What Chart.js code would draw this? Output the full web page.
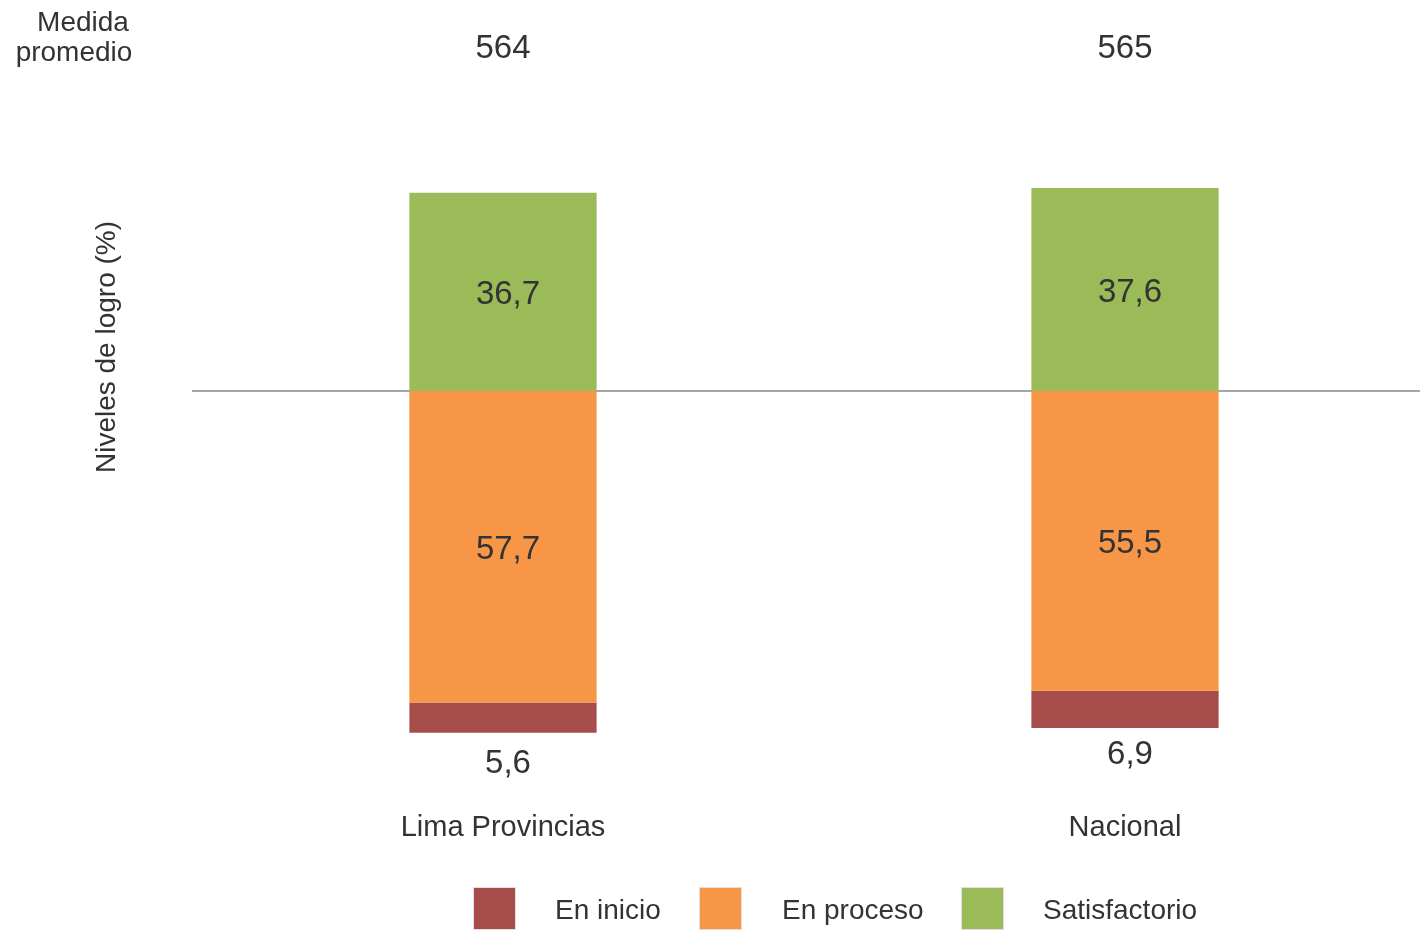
<!DOCTYPE html>
<html>
<head>
<meta charset="utf-8">
<script src="https://cdn.jsdelivr.net/npm/chart.js@4/dist/chart.umd.min.js"></script>
<style>
html,body{margin:0;padding:0;background:#fff;overflow:hidden;}
#wrap{width:1420px;height:930px;overflow:hidden;position:relative;}
#c{display:block;}
</style>
</head>
<body>
<div id="wrap"><canvas id="c" width="1440" height="930"></canvas></div>
<script>
const categories = ["Lima Provincias", "Nacional"];
const medidaPromedio = [564, 565];
const enInicio = [5.6, 6.9];
const enProceso = [57.7, 55.5];
const satisfactorio = [36.7, 37.6];
const legendLabels = ["En inicio", "En proceso", "Satisfactorio"];

const COLORS = { inicio: "#A64C4B", proceso: "#F79646", satis: "#9BBB59" };
const TEXT = "#333333";
const FONT = "'Liberation Sans', Arial, sans-serif";
const fmt = v => v.toFixed(1).replace(".", ",");
const DY = 2;

const overlay = {
  id: "overlay",
  beforeDatasetsDraw(chart) {
    const ctx = chart.ctx, y = chart.scales.y, a = chart.chartArea;
    const y0 = Math.round(y.getPixelForValue(0));
    ctx.save();
    ctx.strokeStyle = "#A6A6A6";
    ctx.lineWidth = 2;
    ctx.beginPath();
    ctx.moveTo(a.left, y0);
    ctx.lineTo(a.right, y0);
    ctx.stroke();
    ctx.restore();
  },
  afterDatasetsDraw(chart) {
    const ctx = chart.ctx, x = chart.scales.x;
    ctx.save();
    ctx.fillStyle = TEXT;
    ctx.textAlign = "center";
    ctx.textBaseline = "middle";
    const metaP = chart.getDatasetMeta(0), metaI = chart.getDatasetMeta(1), metaS = chart.getDatasetMeta(2);
    ctx.font = "33px " + FONT;
    categories.forEach((c, i) => {
      const cx = x.getPixelForValue(i);
      const eS = metaS.data[i], eP = metaP.data[i], eI = metaI.data[i];
      ctx.fillText(fmt(satisfactorio[i]), cx + 5, (eS.y + eS.base) / 2 + DY + 1);
      ctx.fillText(fmt(enProceso[i]), cx + 5, (eP.y + eP.base) / 2 + DY + 1);
      ctx.fillText(fmt(enInicio[i]), cx + 5, (eI.y + eI.base) / 2 + 44 + DY);
      ctx.fillText(String(medidaPromedio[i]), cx, 47 + DY);
    });
    ctx.font = "29px " + FONT;
    categories.forEach((c, i) => {
      ctx.fillText(c, x.getPixelForValue(i), 826 + DY);
    });
    ctx.font = "28px " + FONT;
    ctx.fillText("Medida", 83, 21 + DY);
    ctx.fillText("promedio", 74, 51 + DY);
    ctx.save();
    ctx.translate(105 + DY, 347);
    ctx.rotate(-Math.PI / 2);
    ctx.fillText("Niveles de logro (%)", 0, 0);
    ctx.restore();
    const boxX = [473, 699, 961], textX = [555, 782, 1043];
    const cols = [COLORS.inicio, COLORS.proceso, COLORS.satis];
    legendLabels.forEach((l, i) => {
      ctx.fillStyle = cols[i];
      ctx.fillRect(boxX[i], 887, 43, 43);
      ctx.strokeStyle = "#E0E0E0";
      ctx.lineWidth = 1;
      ctx.strokeRect(boxX[i] + 0.5, 887.5, 42, 42);
      ctx.fillStyle = TEXT;
      ctx.textAlign = "left";
      ctx.fillText(l, textX[i], 909 + DY);
    });
    ctx.restore();
  }
};

new Chart(document.getElementById("c"), {
  type: "bar",
  data: {
    labels: categories,
    datasets: [
      { label: "En proceso", data: enProceso.map(v => -v), backgroundColor: COLORS.proceso },
      { label: "En inicio", data: enInicio.map(v => -v), backgroundColor: COLORS.inicio },
      { label: "Satisfactorio", data: satisfactorio, backgroundColor: COLORS.satis }
    ]
  },
  options: {
    responsive: false,
    animation: false,
    events: [],
    layout: { padding: { left: 192, right: 4, top: 121, bottom: 161 } },
    datasets: { bar: { barPercentage: 1, categoryPercentage: 0.301 } },
    plugins: { legend: { display: false }, tooltip: { enabled: false }, title: { display: false } },
    scales: {
      x: { stacked: true, display: false, offset: true },
      y: { stacked: true, display: false, min: -70, max: 50 }
    }
  },
  plugins: [overlay]
});
</script>
</body>
</html>
